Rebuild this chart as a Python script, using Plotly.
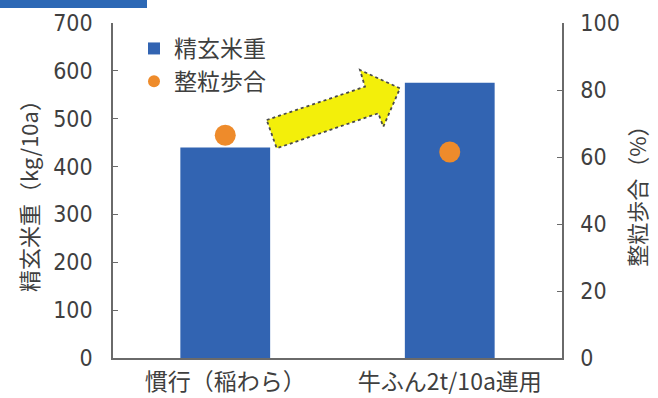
import plotly.graph_objects as go

categories = ["慣行（稲わら）", "牛ふん2t/10a連用"]
brown_rice_weight = [440, 575]      # kg/10a
whole_grain_ratio = [66.5, 61.5]    # %
left_ticks = [0, 100, 200, 300, 400, 500, 600, 700]
right_ticks = [0, 20, 40, 60, 80, 100]

W, H = 658, 398
L, R, T, B = 113, 96, 23, 40
pw, ph = W - L - R, H - T - B

def px(x):
    return (x - L) / pw

def py(y):
    return (H - B - y) / ph

jp = "Noto Sans CJK JP"
num = "Liberation Sans Narrow, DejaVu Sans Condensed, Roboto Condensed, Roboto, sans-serif"
txt = "#3f3f3f"
axc = "#6a6a6a"

fig = go.Figure()
fig.add_trace(go.Bar(
    x=categories, y=brown_rice_weight, name="精玄米重",
    marker=dict(color="#3264b2", line=dict(width=0)), width=0.4,
    legendgroup="a", yaxis="y"))
fig.add_trace(go.Scatter(
    x=categories, y=whole_grain_ratio, name="整粒歩合", mode="markers",
    marker=dict(color="#ee8b2b", size=21, line=dict(width=0)),
    legendgroup="b", yaxis="y2"))

# decorative arrow (pixel points converted to paper coords)
pts = [(266.7, 120), (365, 86.7), (360, 70), (400, 88.3),
       (383.3, 126.7), (378.3, 113.3), (276.7, 148.3)]
path = "M " + " L ".join(f"{px(x):.4f},{py(y):.4f}" for x, y in pts) + " Z"
fig.add_shape(type="path", path=path, xref="paper", yref="paper",
              fillcolor="#f3ef0a", line=dict(color="#4a4a4a", width=1.8, dash="dot"))
# top-left header band fragment
fig.add_shape(type="rect", xref="paper", yref="paper",
              x0=px(0), x1=px(147), y0=py(8), y1=py(-2),
              fillcolor="#2c68b5", line=dict(width=0))

fig.update_layout(
    width=W, height=H, margin=dict(l=L, r=R, t=T, b=B, pad=0, autoexpand=False),
    paper_bgcolor="white", plot_bgcolor="white",
    font=dict(family=jp, color=txt, size=22),
    showlegend=True,
    legend=dict(x=px(134), y=py(27), xanchor="left", yanchor="top",
                bgcolor="rgba(0,0,0,0)", font=dict(family=jp, size=23, color=txt),
                itemsizing="constant", traceorder="grouped", tracegroupgap=0,
                itemwidth=30),
    bargap=0.6,
    xaxis=dict(showline=True, linecolor=axc, linewidth=1.5, ticks="",
               showgrid=False, tickfont=dict(family=jp, size=23, color=txt),
               ticklabelstandoff=3, range=[-0.5, 1.5], automargin=False),
    yaxis=dict(range=[0, 700], tickvals=left_ticks, showline=True, linecolor=axc,
               linewidth=1.5, ticks="inside", ticklen=5, tickcolor=axc,
               showgrid=False, zeroline=False, ticklabelstandoff=14, automargin=False,
               tickfont=dict(family=num, size=23, color=txt),
               title=dict(text="精玄米重（kg/10a）", font=dict(family=jp, size=22, color=txt),
                          standoff=8)),
    yaxis2=dict(range=[0, 100], tickvals=right_ticks, overlaying="y", side="right",
                showline=True, linecolor=axc, linewidth=1.5, ticks="inside",
                ticklen=5, tickcolor=axc, showgrid=False, zeroline=False,
                ticklabelstandoff=12, automargin=False,
                tickfont=dict(family=num, size=23, color=txt),
                title=dict(text="整粒歩合（%）", font=dict(family=jp, size=22, color=txt),
                           standoff=12)),
)

fig.write_html("out.html")
